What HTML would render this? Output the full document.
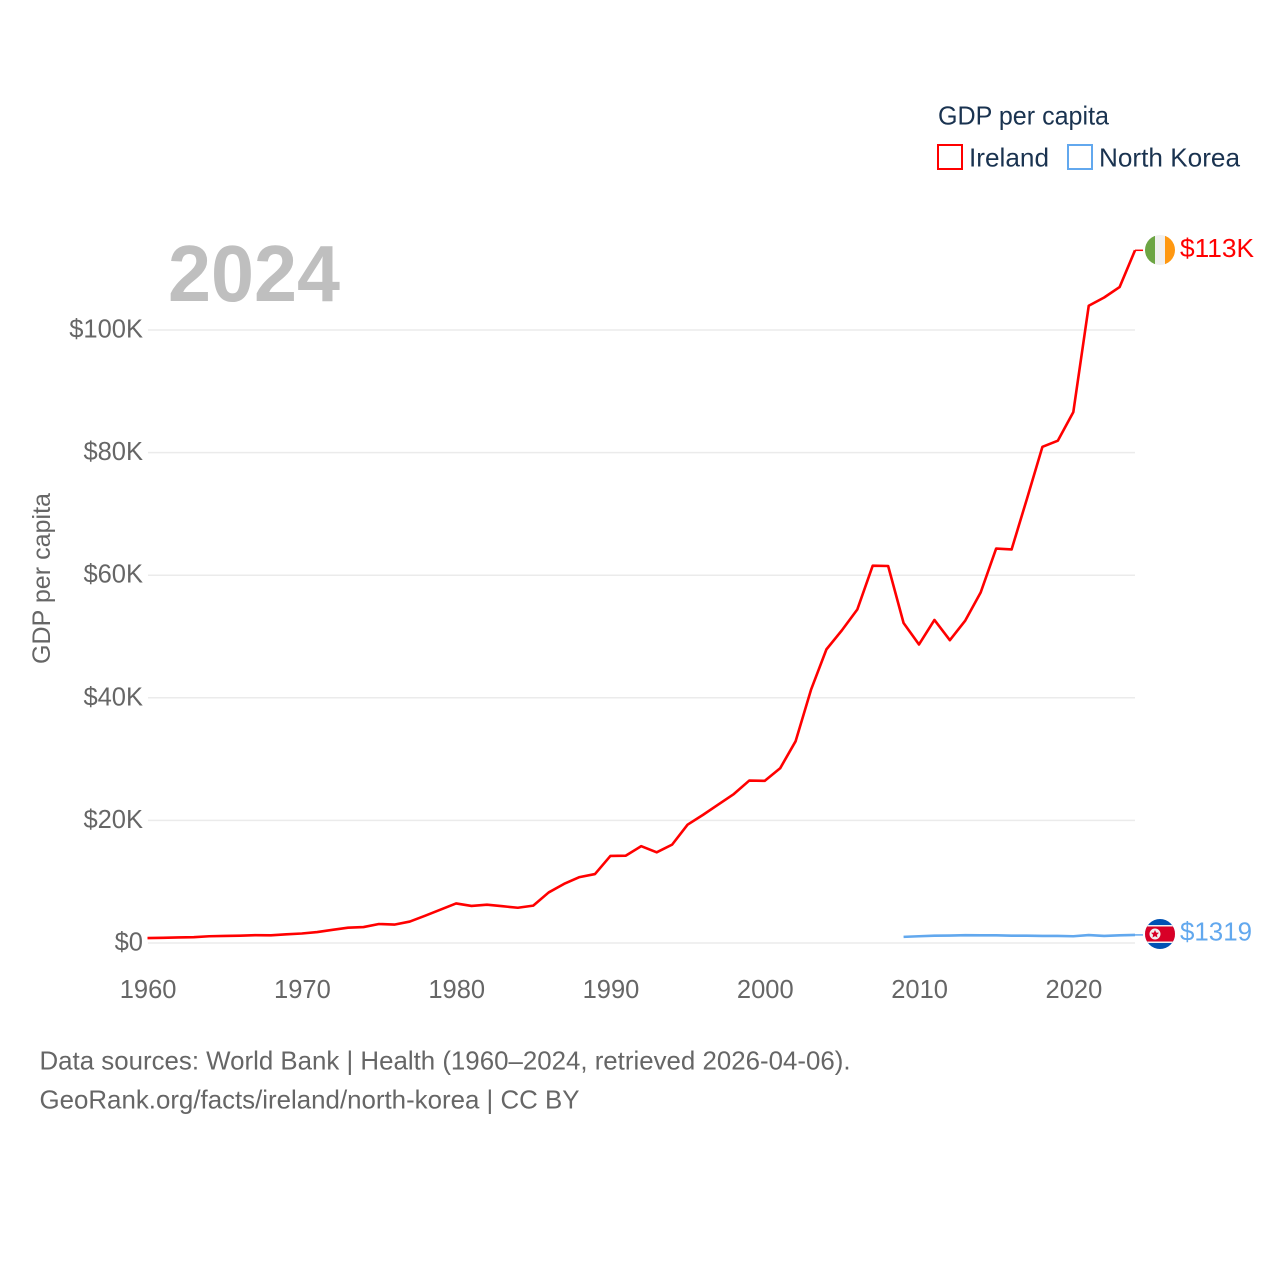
<!DOCTYPE html>
<html lang="en">
<head>
<meta charset="utf-8">
<title>GDP per capita: Ireland and North Korea</title>
<style>
html,body{margin:0;padding:0;background:#fff;width:1280px;height:1280px;overflow:hidden}
svg{display:block}
text{font-family:"Liberation Sans",sans-serif}
</style>
</head>
<body>
<svg id="chart" xmlns="http://www.w3.org/2000/svg" width="1280" height="1280" viewBox="0 0 1280 1280">
  <defs>
    <clipPath id="ie-clip"><circle cx="1160" cy="250" r="15"/></clipPath>
    <clipPath id="kp-clip"><circle cx="1160" cy="934" r="15"/></clipPath>
  </defs>
  <g id="grid"></g>
  <g id="y-ticks"></g>
  <g id="x-ticks"></g>
  <text x="168" y="301" font-size="80" font-weight="700" fill="#bfbfbf" textLength="172" lengthAdjust="spacingAndGlyphs">2024</text>
  <text transform="translate(50,578.5) rotate(-90)" text-anchor="middle" font-size="25" fill="#666" textLength="171" lengthAdjust="spacingAndGlyphs">GDP per capita</text>
  <g id="series"></g>

  <g>
    <text x="938" y="124.5" font-size="26" fill="#1a3350" textLength="171" lengthAdjust="spacingAndGlyphs">GDP per capita</text>
    <rect x="938" y="145" width="24" height="24" fill="#fff" stroke="#ff0000" stroke-width="2"/>
    <text x="969" y="166.5" font-size="26" fill="#1a3350" textLength="80" lengthAdjust="spacingAndGlyphs">Ireland</text>
    <rect x="1068" y="145" width="24" height="24" fill="#fff" stroke="#62a8ee" stroke-width="2"/>
    <text x="1099" y="166.5" font-size="26" fill="#1a3350" textLength="141" lengthAdjust="spacingAndGlyphs">North Korea</text>
  </g>

  <g clip-path="url(#ie-clip)">
    <rect x="1145" y="235" width="10" height="30" fill="#6da544"/>
    <rect x="1155" y="235" width="10" height="30" fill="#f0f0f0"/>
    <rect x="1165" y="235" width="10" height="30" fill="#ff9811"/>
  </g>
  <text id="ie-end-label" x="1180" y="257" font-size="26" fill="#ff0000" textLength="74" lengthAdjust="spacingAndGlyphs">$113K</text>

  <g clip-path="url(#kp-clip)">
    <rect x="1145" y="919" width="30" height="30" fill="#0052b4"/>
    <rect x="1145" y="925" width="30" height="18" fill="#f0f0f0"/>
    <rect x="1145" y="926.5" width="30" height="15" fill="#d80027"/>
    <circle cx="1155" cy="934" r="5.5" fill="#f0f0f0"/>
    <polygon points="1155,930 1156.2,932.6 1159,932.8 1156.9,934.7 1157.5,937.5 1155,936.1 1152.5,937.5 1153.1,934.7 1151,932.8 1153.8,932.6" fill="#d80027"/>
  </g>
  <text id="kp-end-label" x="1180" y="940.5" font-size="26" fill="#62a8ee" textLength="72" lengthAdjust="spacingAndGlyphs">$1319</text>

  <g>
    <text x="39.5" y="1069.5" font-size="26" fill="#666" textLength="811" lengthAdjust="spacingAndGlyphs">Data sources: World Bank | Health (1960–2024, retrieved 2026-04-06).</text>
    <text x="39.5" y="1108.5" font-size="26" fill="#666" textLength="540" lengthAdjust="spacingAndGlyphs">GeoRank.org/facts/ireland/north-korea | CC BY</text>
  </g>
</svg>
<script>
const irelandYears = [1960,1961,1962,1963,1964,1965,1966,1967,1968,1969,1970,1971,1972,1973,1974,1975,1976,1977,1978,1979,1980,1981,1982,1983,1984,1985,1986,1987,1988,1989,1990,1991,1992,1993,1994,1995,1996,1997,1998,1999,2000,2001,2002,2003,2004,2005,2006,2007,2008,2009,2010,2011,2012,2013,2014,2015,2016,2017,2018,2019,2020,2021,2022,2023,2024];
const irelandValues = [0.8,0.85,0.9,0.95,1.1,1.15,1.2,1.28,1.25,1.42,1.55,1.78,2.15,2.5,2.6,3.1,3.0,3.5,4.45,5.45,6.45,6.05,6.25,6.0,5.75,6.1,8.25,9.65,10.75,11.25,14.2,14.25,15.8,14.8,16.05,19.3,20.9,22.6,24.3,26.5,26.45,28.5,32.9,41.3,47.9,51.0,54.4,61.55,61.5,52.2,48.7,52.7,49.4,52.6,57.2,64.35,64.2,72.5,80.95,81.95,86.6,103.95,105.3,107.0,113.0];
const northKoreaYears = [2009,2010,2011,2012,2013,2014,2015,2016,2017,2018,2019,2020,2021,2022,2023,2024];
const northKoreaValues = [1.0,1.1,1.2,1.22,1.28,1.25,1.25,1.2,1.2,1.15,1.15,1.1,1.3,1.15,1.25,1.319];
const yTickValues = [0,20,40,60,80,100];
const yTickLabels = ['$0','$20K','$40K','$60K','$80K','$100K'];
const xTickValues = [1960,1970,1980,1990,2000,2010,2020];

const NS = 'http://www.w3.org/2000/svg';
function xScale(year){ return 147.5 + (year - 1960) * 15.43; }
function yScale(value){ return 943 - value * 6.13; }

const grid = document.getElementById('grid');
const yTicks = document.getElementById('y-ticks');
const xTicks = document.getElementById('x-ticks');
const series = document.getElementById('series');

yTickValues.forEach(function(v, i){
  const line = document.createElementNS(NS, 'line');
  line.setAttribute('x1', 148);
  line.setAttribute('x2', xScale(2024));
  line.setAttribute('y1', yScale(v));
  line.setAttribute('y2', yScale(v));
  line.setAttribute('stroke', '#ebebeb');
  line.setAttribute('stroke-width', 1.5);
  
  
  grid.appendChild(line);

  const label = document.createElementNS(NS, 'text');
  label.setAttribute('x', 143);
  label.setAttribute('y', yScale(v) + 7.5);
  label.setAttribute('text-anchor', 'end');
  label.setAttribute('font-size', 25.5);
  label.setAttribute('fill', '#666');
  label.textContent = yTickLabels[i];
  
  
  yTicks.appendChild(label);
});

xTickValues.forEach(function(year){
  const label = document.createElementNS(NS, 'text');
  label.setAttribute('x', xScale(year) + 0.6);
  label.setAttribute('y', 998);
  label.setAttribute('text-anchor', 'middle');
  label.setAttribute('font-size', 25.5);
  label.setAttribute('fill', '#666');
  label.textContent = String(year);
  
  
  xTicks.appendChild(label);
});

function drawSeries(years, values, color, seriesName, connectorName){
  const points = years.map(function(y, i){ return xScale(y).toFixed(2) + ',' + yScale(values[i]).toFixed(2); });
  const path = document.createElementNS(NS, 'polyline');
  path.setAttribute('points', points.join(' '));
  path.setAttribute('fill', 'none');
  path.setAttribute('stroke', color);
  path.setAttribute('stroke-width', 2.6);
  path.setAttribute('stroke-linejoin', 'round');
  
  
  series.appendChild(path);

  const lastX = xScale(years[years.length - 1]);
  const lastY = yScale(values[values.length - 1]);
  const connector = document.createElementNS(NS, 'line');
  connector.setAttribute('x1', lastX);
  connector.setAttribute('x2', lastX + 8);
  connector.setAttribute('y1', lastY);
  connector.setAttribute('y2', lastY);
  connector.setAttribute('stroke', color);
  connector.setAttribute('stroke-width', 1.5);
  
  
  series.appendChild(connector);
}

drawSeries(irelandYears, irelandValues, '#ff0000', 'ireland-line', 'ireland-connector');
drawSeries(northKoreaYears, northKoreaValues, '#62a8ee', 'north-korea-line', 'north-korea-connector');
</script>
</body>
</html>
